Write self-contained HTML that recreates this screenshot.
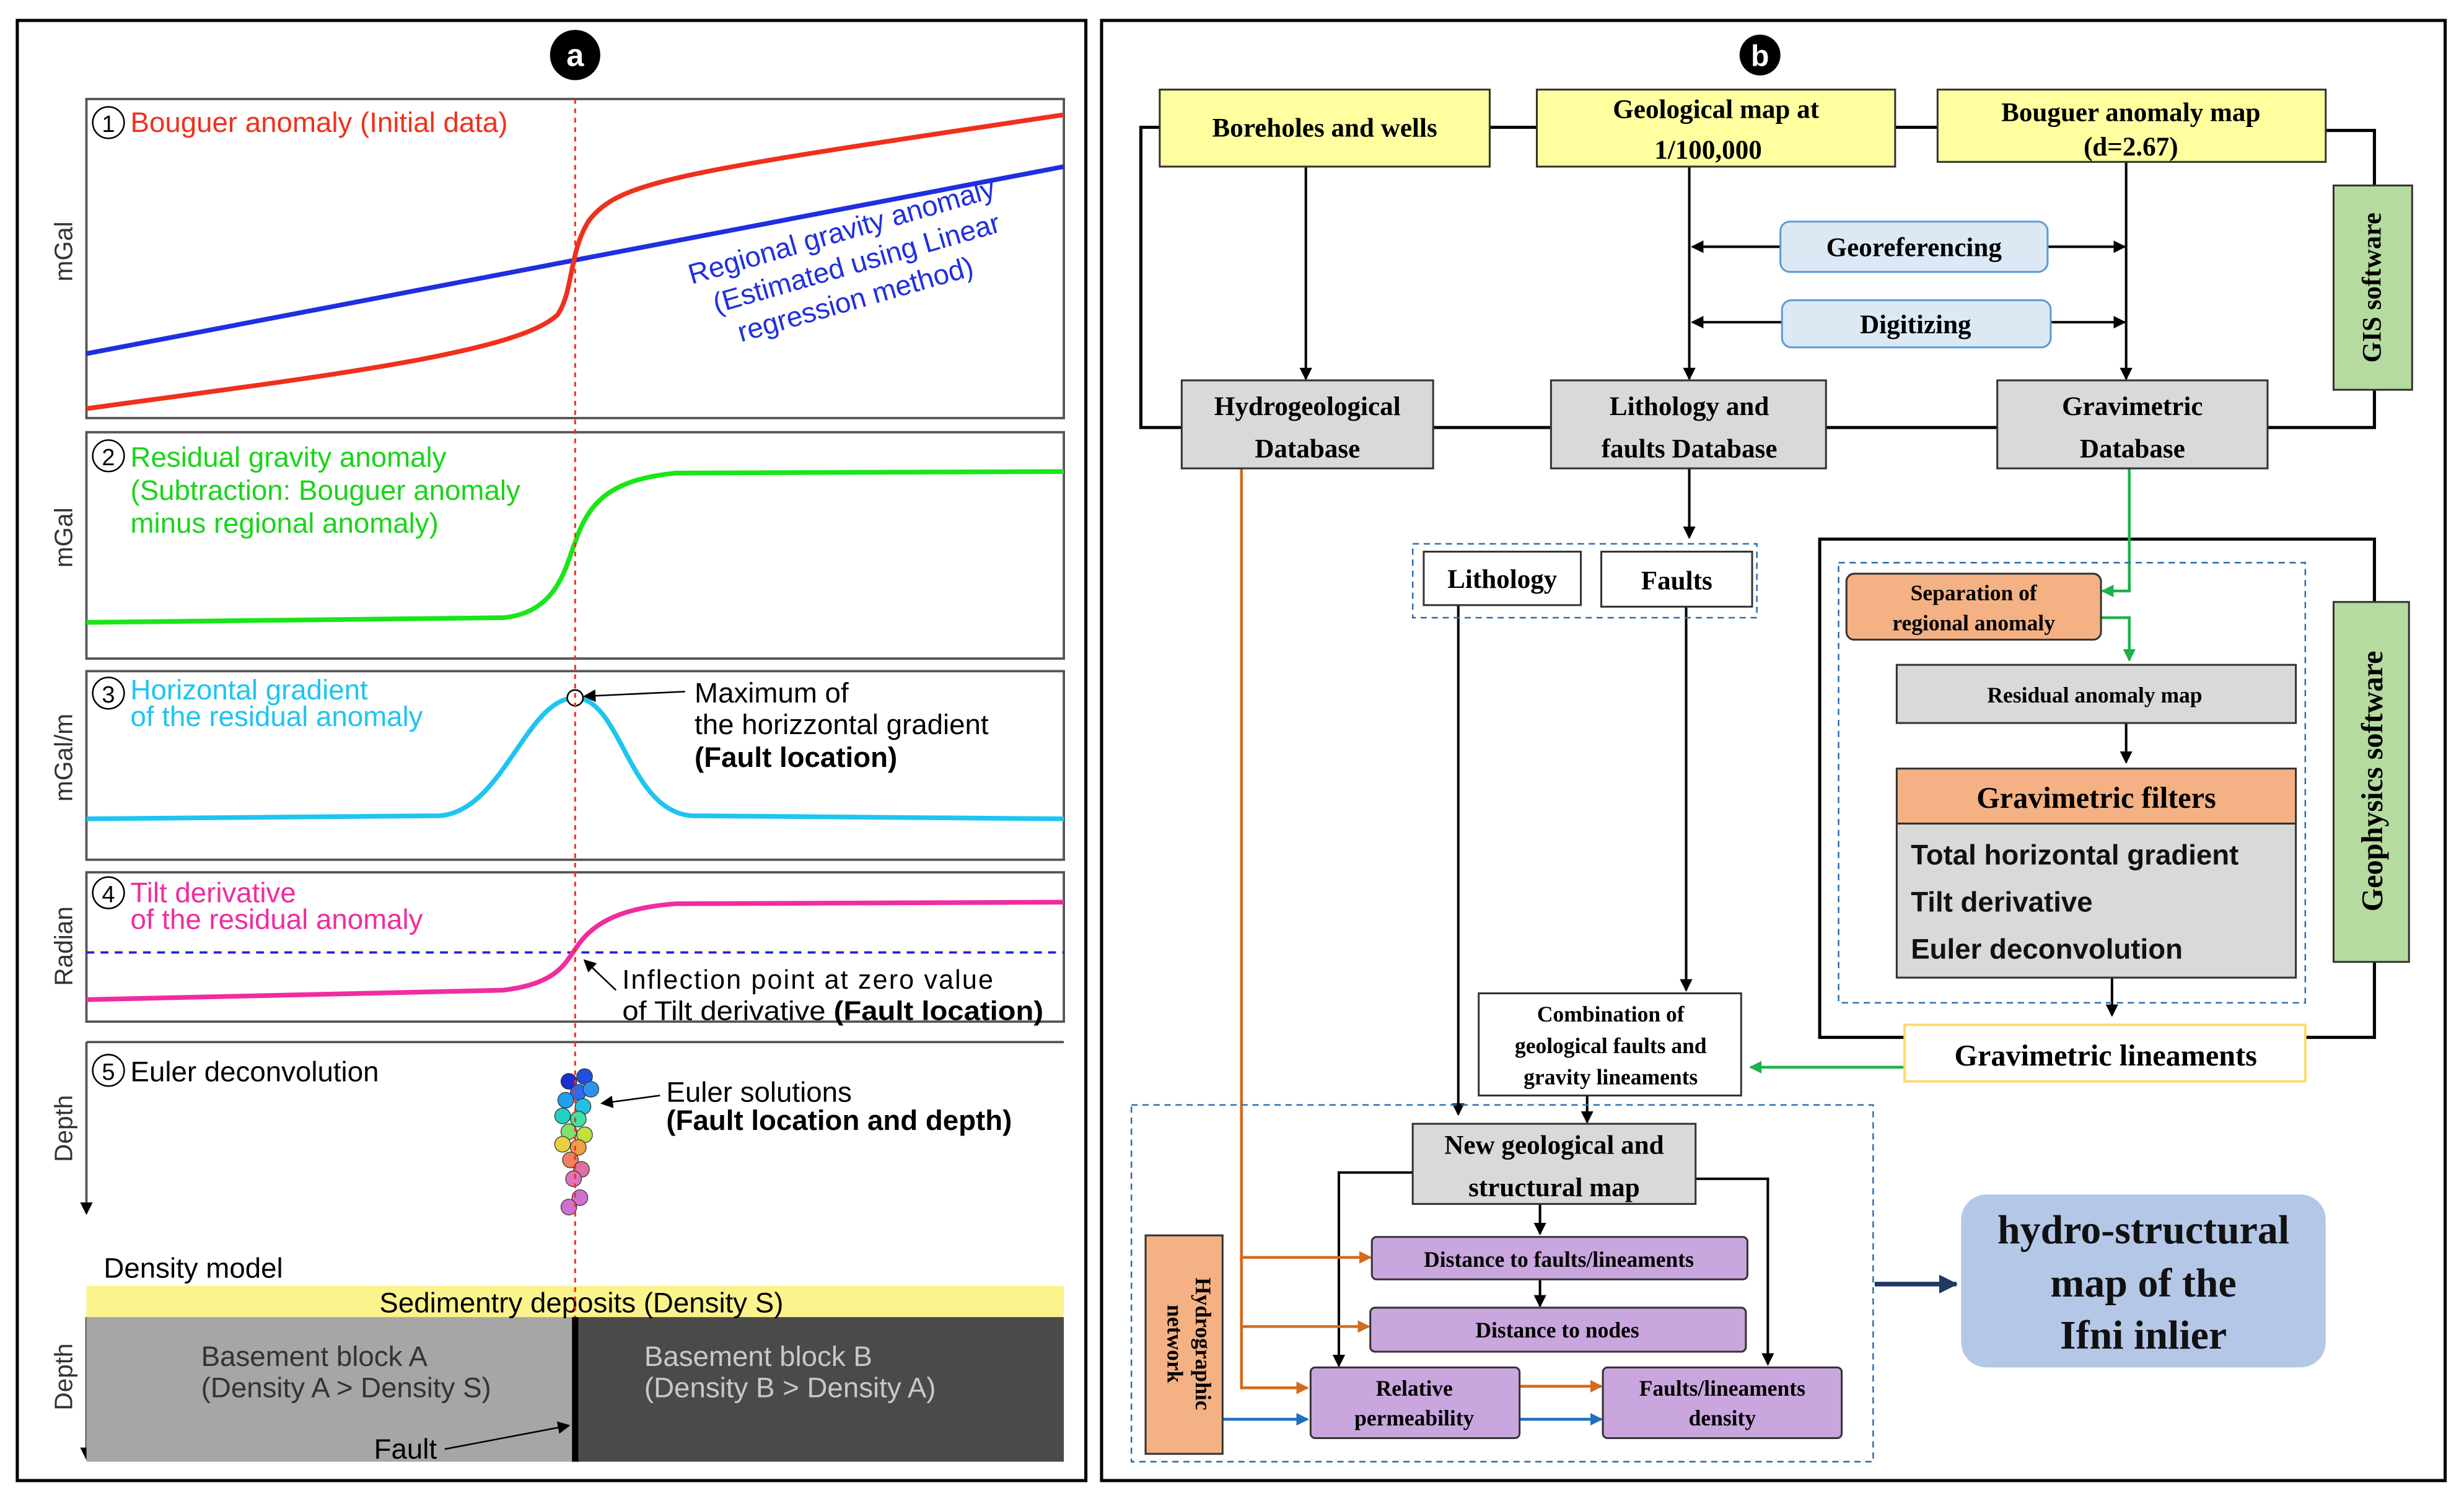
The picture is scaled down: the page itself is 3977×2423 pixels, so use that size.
<!DOCTYPE html>
<html><head><meta charset="utf-8"><style>html,body{margin:0;padding:0;background:#fff}svg{display:block}</style></head><body>
<svg width="3977" height="2423" viewBox="0 0 1568 955" preserveAspectRatio="none" xmlns="http://www.w3.org/2000/svg">
<defs>
<marker id="ak" markerWidth="8" markerHeight="8" refX="7" refY="4" orient="auto" markerUnits="userSpaceOnUse"><path d="M0,0 L8,4 L0,8 z" fill="#000"/></marker>
<marker id="ag" markerWidth="8" markerHeight="8" refX="7" refY="4" orient="auto" markerUnits="userSpaceOnUse"><path d="M0,0 L8,4 L0,8 z" fill="#1db14b"/></marker>
<marker id="ao" markerWidth="8" markerHeight="8" refX="7" refY="4" orient="auto" markerUnits="userSpaceOnUse"><path d="M0,0 L8,4 L0,8 z" fill="#d46a1e"/></marker>
<marker id="ab" markerWidth="8" markerHeight="8" refX="7" refY="4" orient="auto" markerUnits="userSpaceOnUse"><path d="M0,0 L8,4 L0,8 z" fill="#1f6fc0"/></marker>
<marker id="an" markerWidth="12" markerHeight="12" refX="11" refY="6" orient="auto" markerUnits="userSpaceOnUse"><path d="M0,0 L12,6 L0,12 z" fill="#1f3864"/></marker>
</defs>
<rect width="1568" height="955" fill="#fff"/>
<g font-family="Liberation Sans, sans-serif">
<rect x="11" y="13" width="680" height="929" fill="none" stroke="#000" stroke-width="2"/>
<circle cx="366" cy="35" r="16" fill="#000"/><text x="366" y="42" fill="#fff" font-size="20" font-weight="bold" text-anchor="middle">a</text>
<rect x="55" y="63" width="622" height="203" fill="#fff" stroke="#555" stroke-width="1.5"/>
<rect x="55" y="275" width="622" height="144" fill="#fff" stroke="#555" stroke-width="1.5"/>
<rect x="55" y="427" width="622" height="120" fill="#fff" stroke="#555" stroke-width="1.5"/>
<rect x="55" y="555" width="622" height="95" fill="#fff" stroke="#555" stroke-width="1.5"/>
<line x1="55" y1="663" x2="677" y2="663" stroke="#555" stroke-width="1.5"/>
<line x1="55" y1="663" x2="55" y2="772" stroke="#555" stroke-width="1.5" marker-end="url(#ak)"/>
<g font-size="16" fill="#333">
<text transform="translate(46,160) rotate(-90)" text-anchor="middle">mGal</text>
<text transform="translate(46,342) rotate(-90)" text-anchor="middle">mGal</text>
<text transform="translate(46,482) rotate(-90)" text-anchor="middle">mGal/m</text>
<text transform="translate(46,602) rotate(-90)" text-anchor="middle">Radian</text>
<text transform="translate(46,718) rotate(-90)" text-anchor="middle">Depth</text>
<text transform="translate(46,876) rotate(-90)" text-anchor="middle">Depth</text>
</g>
<line x1="55" y1="838" x2="55" y2="928" stroke="#555" stroke-width="1.5" marker-end="url(#ak)"/>
<line x1="55" y1="225" x2="677" y2="106" stroke="#1f2fe0" stroke-width="3"/>
<path d="M55,260 C200,240 330,225 355,200 C365,185 362,160 375,140 C395,115 430,110 677,73" fill="none" stroke="#f0301c" stroke-width="3"/>
<path d="M55,396 L320,393 C355,390 360,360 366,345 C375,318 390,305 430,301 L677,300" fill="none" stroke="#19e619" stroke-width="3"/>
<path d="M55,521 L280,519 C320,516 335,444 366,444 C395,444 400,516 440,519 L677,521" fill="none" stroke="#1fc4f0" stroke-width="3"/>
<line x1="55" y1="606" x2="677" y2="606" stroke="#2020e0" stroke-width="1.5" stroke-dasharray="5,4"/>
<path d="M55,636 L320,630 C355,626 360,612 366,604 C375,590 390,578 430,575 L677,574" fill="none" stroke="#f02ca0" stroke-width="3"/>
<circle cx="366" cy="444" r="5" fill="#fff" stroke="#000"/>
<g font-size="18">
<circle cx="69" cy="78" r="10" fill="none" stroke="#000"/><text x="69" y="84" font-size="15" text-anchor="middle">1</text>
<text x="83" y="84" fill="#f0301c">Bouguer anomaly (Initial data)</text>
<g fill="#1f2fe0" transform="rotate(-16 550 165)"><text x="440" y="150">Regional gravity anomaly</text><text x="450" y="172">(Estimated using Linear</text><text x="460" y="194">regression method)</text></g>
<circle cx="69" cy="290" r="10" fill="none" stroke="#000"/><text x="69" y="296" font-size="15" text-anchor="middle">2</text>
<g fill="#19d419"><text x="83" y="297">Residual gravity  anomaly</text><text x="83" y="318">(Subtraction: Bouguer anomaly</text><text x="83" y="339">minus regional anomaly)</text></g>
<circle cx="69" cy="441" r="10" fill="none" stroke="#000"/><text x="69" y="447" font-size="15" text-anchor="middle">3</text>
<g fill="#1fc4f0"><text x="83" y="445">Horizontal gradient</text><text x="83" y="462">of the residual anomaly</text></g>
<text x="442" y="447">Maximum of</text><text x="442" y="467">the horizzontal gradient</text><text x="442" y="488" font-weight="bold">(Fault location)</text>
<line x1="436" y1="440" x2="372" y2="443" stroke="#000" marker-end="url(#ak)"/>
<circle cx="69" cy="568" r="10" fill="none" stroke="#000"/><text x="69" y="574" font-size="15" text-anchor="middle">4</text>
<g fill="#f02ca0"><text x="83" y="574">Tilt derivative</text><text x="83" y="591">of the residual anomaly</text></g>
<text x="396" y="629" font-size="17" textLength="236">Inflection point at zero value</text><text x="396" y="649" font-size="17" textLength="268" lengthAdjust="spacingAndGlyphs">of Tilt derivative <tspan font-weight="bold">(Fault location)</tspan></text>
<line x1="392" y1="630" x2="372" y2="611" stroke="#000" marker-end="url(#ak)"/>
<circle cx="69" cy="681" r="10" fill="none" stroke="#000"/><text x="69" y="687" font-size="15" text-anchor="middle">5</text>
<text x="83" y="688">Euler deconvolution</text>
<text x="424" y="701">Euler solutions</text><text x="424" y="719" font-weight="bold">(Fault location and depth)</text>
<line x1="420" y1="697" x2="383" y2="702" stroke="#000" marker-end="url(#ak)"/>
<text x="66" y="813">Density model</text>
</g>
<g stroke="#333" stroke-width="0.5">
<circle cx="362" cy="688" r="5" fill="#1a2fd0"/><circle cx="372" cy="685" r="5" fill="#2050e0"/><circle cx="368" cy="695" r="5" fill="#2a6cf0"/><circle cx="376" cy="693" r="5" fill="#3090f0"/>
<circle cx="360" cy="700" r="5" fill="#20a0f0"/><circle cx="371" cy="704" r="5" fill="#20c0e0"/><circle cx="358" cy="710" r="5" fill="#20d0c0"/><circle cx="368" cy="712" r="5" fill="#40e0a0"/>
<circle cx="362" cy="720" r="5" fill="#80e070"/><circle cx="372" cy="722" r="5" fill="#c0e040"/><circle cx="358" cy="728" r="5" fill="#e8d040"/><circle cx="368" cy="730" r="5" fill="#f0a040"/>
<circle cx="363" cy="738" r="5" fill="#f08060"/><circle cx="370" cy="744" r="5" fill="#e070a0"/><circle cx="365" cy="750" r="5" fill="#e070c0"/><circle cx="369" cy="762" r="5" fill="#d070d0"/><circle cx="362" cy="768" r="5" fill="#d070d0"/>
</g>
<rect x="55" y="818" width="622" height="20" fill="#fbf48c"/>
<rect x="55" y="838" width="311" height="92" fill="#a6a6a6"/>
<rect x="366" y="838" width="311" height="92" fill="#4a4a4a"/>
<text x="370" y="835" font-size="18" text-anchor="middle">Sedimentry deposits (Density S)</text>
<g font-size="18" fill="#333"><text x="128" y="869">Basement block A</text><text x="128" y="889">(Density A &gt; Density S)</text><text x="238" y="928" fill="#000">Fault</text></g>
<g font-size="18" fill="#c8c8c8"><text x="410" y="869">Basement block B</text><text x="410" y="889">(Density B &gt; Density A)</text></g>
<line x1="283" y1="922" x2="362" y2="907" stroke="#000" marker-end="url(#ak)"/>
<line x1="366" y1="838" x2="366" y2="930" stroke="#000" stroke-width="4"/>
<line x1="366" y1="63" x2="366" y2="838" stroke="#f0301c" stroke-width="1.2" stroke-dasharray="3,3"/>
</g>
<g font-family="Liberation Serif, serif" font-weight="bold">
<rect x="701" y="13" width="855" height="929" fill="none" stroke="#000" stroke-width="2"/>
<circle cx="1120" cy="35" r="13" fill="#000"/><text x="1120" y="42" fill="#fff" font-size="19" text-anchor="middle" font-family="Liberation Sans, sans-serif">b</text>
<g stroke="#000" stroke-width="2" fill="none">
<polyline points="738,81 726,81 726,272 752,272"/>
<polyline points="1480,83 1511,83 1511,272 1443,272"/>
<line x1="948" y1="81" x2="978" y2="81"/><line x1="1206" y1="81" x2="1233" y2="81"/>
<line x1="912" y1="272" x2="987" y2="272"/><line x1="1162" y1="272" x2="1271" y2="272"/>
<polyline points="1212,660 1158,660 1158,343 1511,343 1511,660 1467,660"/>
</g>
<g stroke="#000" stroke-width="1.6" fill="none">
<line x1="831" y1="106" x2="831" y2="241" marker-end="url(#ak)"/>
<line x1="1075" y1="106" x2="1075" y2="241" marker-end="url(#ak)"/>
<line x1="1353" y1="103" x2="1353" y2="241" marker-end="url(#ak)"/>
<line x1="1133" y1="157" x2="1077" y2="157" marker-end="url(#ak)"/>
<line x1="1303" y1="157" x2="1352" y2="157" marker-end="url(#ak)"/>
<line x1="1134" y1="205" x2="1077" y2="205" marker-end="url(#ak)"/>
<line x1="1305" y1="205" x2="1352" y2="205" marker-end="url(#ak)"/>
<line x1="1075" y1="298" x2="1075" y2="342" marker-end="url(#ak)"/>
<line x1="1353" y1="460" x2="1353" y2="485" marker-end="url(#ak)"/>
<line x1="1344" y1="622" x2="1344" y2="646" marker-end="url(#ak)"/>
<line x1="928" y1="385" x2="928" y2="709" marker-end="url(#ak)"/>
<line x1="1073" y1="386" x2="1073" y2="630" marker-end="url(#ak)"/>
<line x1="1010" y1="697" x2="1010" y2="714" marker-end="url(#ak)"/>
<polyline points="899,746 852,746 852,869" marker-end="url(#ak)"/>
<polyline points="1079,750 1125,750 1125,868" marker-end="url(#ak)"/>
<line x1="980" y1="766" x2="980" y2="785" marker-end="url(#ak)"/>
<line x1="980" y1="814" x2="980" y2="831" marker-end="url(#ak)"/>
</g>
<g stroke="#1db14b" stroke-width="1.8" fill="none">
<polyline points="1355,298 1355,376 1338,376" marker-end="url(#ag)"/>
<polyline points="1337,393 1355,393 1355,420" marker-end="url(#ag)"/>
<line x1="1212" y1="679" x2="1114" y2="679" marker-end="url(#ag)"/>
</g>
<g stroke="#d46a1e" stroke-width="1.8" fill="none">
<polyline points="790,298 790,883 832,883" marker-end="url(#ao)"/>
<line x1="790" y1="800" x2="872" y2="800" marker-end="url(#ao)"/>
<line x1="790" y1="844" x2="871" y2="844" marker-end="url(#ao)"/>
<line x1="967" y1="882" x2="1019" y2="882" marker-end="url(#ao)"/>
</g>
<g stroke="#1f6fc0" stroke-width="1.8" fill="none">
<line x1="778" y1="903" x2="832" y2="903" marker-end="url(#ab)"/>
<line x1="967" y1="903" x2="1019" y2="903" marker-end="url(#ab)"/>
</g>
<line x1="1193" y1="817" x2="1245" y2="817" stroke="#1f3864" stroke-width="3" marker-end="url(#an)"/>
<g stroke="#2e6fb0" stroke-width="1" fill="none" stroke-dasharray="4,3">
<rect x="899" y="346" width="219" height="47"/>
<rect x="1170" y="358" width="297" height="280"/>
<rect x="720" y="703" width="472" height="227"/>
</g>
<g stroke="#333" stroke-width="1.2">
<rect x="738" y="57" width="210" height="49" fill="#ffff9f"/>
<rect x="978" y="57" width="228" height="49" fill="#ffff9f"/>
<rect x="1233" y="57" width="247" height="46" fill="#ffff9f"/>
<rect x="1485" y="118" width="50" height="130" fill="#b5dba0"/>
<rect x="1485" y="383" width="48" height="229" fill="#b5dba0"/>
<rect x="752" y="242" width="160" height="56" fill="#d9d9d9"/>
<rect x="987" y="242" width="175" height="56" fill="#d9d9d9"/>
<rect x="1271" y="242" width="172" height="56" fill="#d9d9d9"/>
<rect x="906" y="351" width="100" height="34" fill="#fff"/>
<rect x="1019" y="351" width="96" height="35" fill="#fff"/>
<rect x="1175" y="365" width="162" height="42" rx="5" fill="#f4b183"/>
<rect x="1207" y="423" width="254" height="37" fill="#d9d9d9"/>
<rect x="1207" y="489" width="254" height="35" fill="#f4b183"/>
<rect x="1207" y="524" width="254" height="98" fill="#d9d9d9"/>
<rect x="941" y="632" width="167" height="65" fill="#fff"/>
<rect x="899" y="715" width="180" height="51" fill="#d9d9d9"/>
<rect x="873" y="787" width="239" height="27" rx="3" fill="#c9a6dd"/>
<rect x="872" y="832" width="239" height="28" rx="3" fill="#c9a6dd"/>
<rect x="834" y="870" width="133" height="45" rx="3" fill="#c9a6dd"/>
<rect x="1020" y="870" width="152" height="45" rx="3" fill="#c9a6dd"/>
<rect x="729" y="786" width="49" height="139" fill="#f4b183"/>
</g>
<rect x="1212" y="652" width="255" height="36" fill="#fff" stroke="#ffd966" stroke-width="1.5"/>
<rect x="1133" y="141" width="170" height="32" rx="6" fill="#dce9f5" stroke="#5b9bd5" stroke-width="1.2"/>
<rect x="1134" y="191" width="171" height="30" rx="6" fill="#dce9f5" stroke="#5b9bd5" stroke-width="1.2"/>
<rect x="1248" y="760" width="232" height="110" rx="16" fill="#b4c7e7"/>
<g font-size="17" text-anchor="middle" fill="#000">
<text x="843" y="87">Boreholes and wells</text>
<text x="1092" y="75">Geological map at</text><text x="1087" y="101">1/100,000</text>
<text x="1356" y="77">Bouguer anomaly map</text><text x="1356" y="99">(d=2.67)</text>
<text x="1218" y="163">Georeferencing</text>
<text x="1219" y="212">Digitizing</text>
<text x="832" y="264">Hydrogeological</text><text x="832" y="291">Database</text>
<text x="1075" y="264">Lithology and</text><text x="1075" y="291">faults  Database</text>
<text x="1357" y="264">Gravimetric</text><text x="1357" y="291">Database</text>
<text x="956" y="374">Lithology</text>
<text x="1067" y="375">Faults</text>
<text x="1340" y="678" font-size="19">Gravimetric lineaments</text>
<text x="989" y="734">New geological and</text><text x="989" y="761">structural map</text>
<text transform="translate(1515,183) rotate(-90)">GIS software</text>
<text transform="translate(1516,497) rotate(-90)" font-size="19">Geophysics software</text>
</g>
<g font-size="14" text-anchor="middle">
<text x="1256" y="382">Separation of</text><text x="1256" y="401">regional anomaly</text>
<text x="1333" y="447">Residual anomaly map</text>
<text x="1025" y="650">Combination of</text><text x="1025" y="670">geological faults and</text><text x="1025" y="690">gravity lineaments</text>
<text x="992" y="806">Distance to faults/lineaments</text>
<text x="991" y="851">Distance to nodes</text>
<text x="900" y="888">Relative</text><text x="900" y="907">permeability</text>
<text x="1096" y="888">Faults/lineaments</text><text x="1096" y="907">density</text>
<g transform="translate(753,855) rotate(90)"><text x="0" y="-8">Hydrographic</text><text x="0" y="10">network</text></g>
</g>
<text x="1334" y="514" font-size="19" text-anchor="middle">Gravimetric filters</text>
<g font-family="Liberation Sans, sans-serif" font-size="18" fill="#111">
<text x="1216" y="550">Total horizontal gradient</text>
<text x="1216" y="580">Tilt derivative</text>
<text x="1216" y="610">Euler deconvolution</text>
</g>
<g font-size="26" text-anchor="middle" fill="#111">
<text x="1364" y="791">hydro-structural</text><text x="1364" y="825">map of the</text><text x="1364" y="858">Ifni inlier</text>
</g>
</g>
</svg>
</body></html>
